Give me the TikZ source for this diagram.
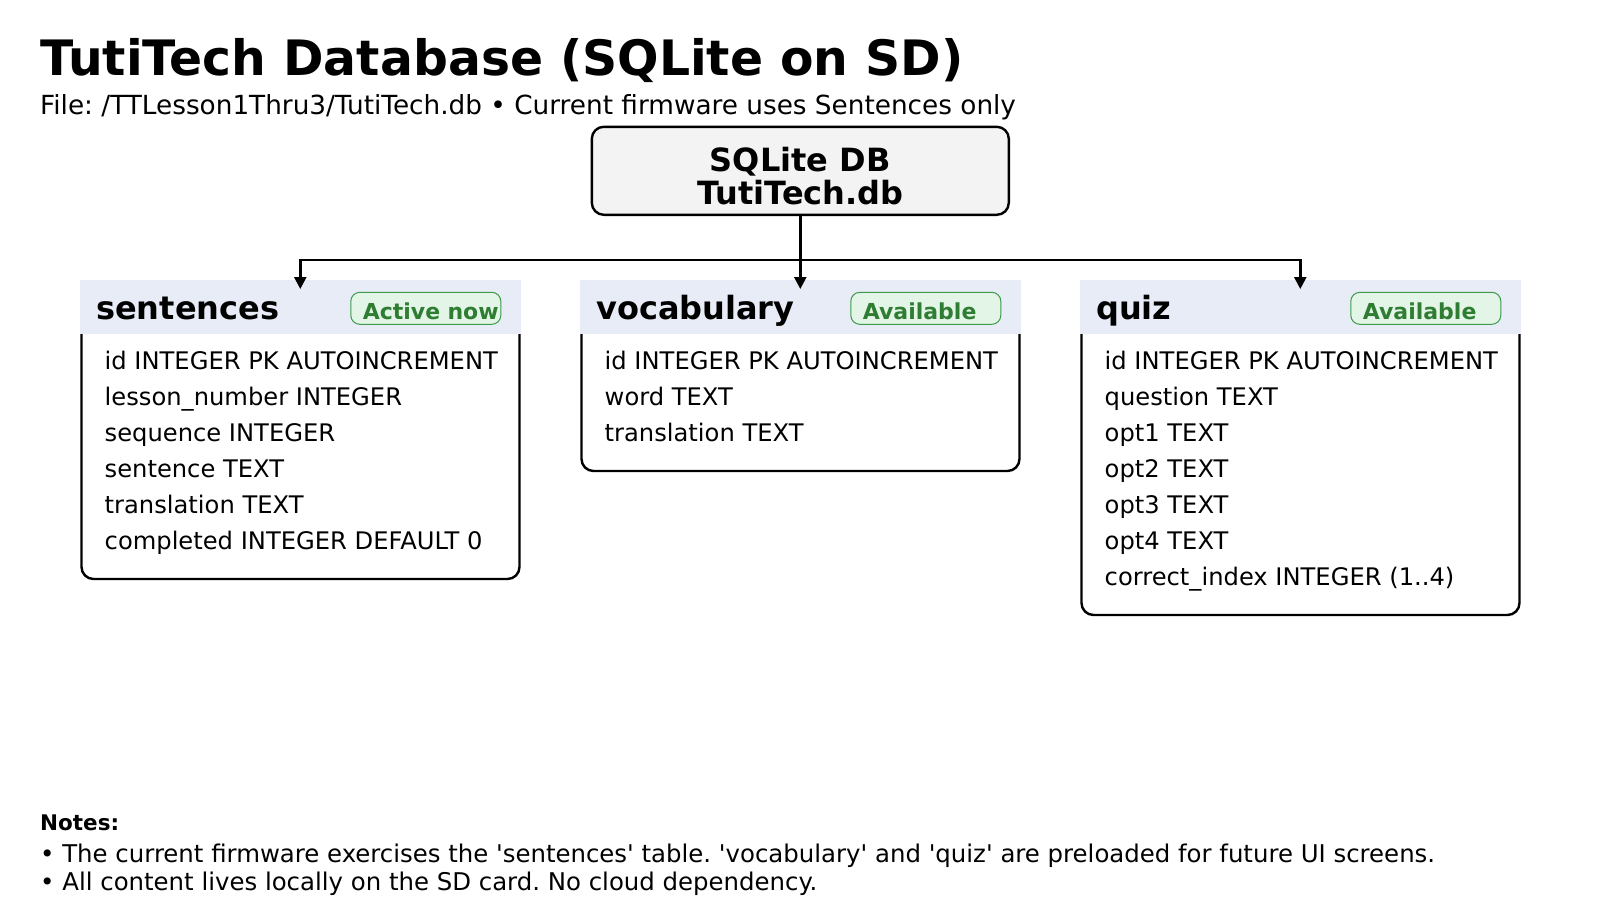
\documentclass[tikz,border=0pt]{standalone}
\usepackage{fontspec}
\setmainfont{DejaVu Sans}
\usepackage{tikz}
\usetikzlibrary{arrows.meta,positioning,calc}
\definecolor{hdrfill}{HTML}{E8ECF7}
\definecolor{dbgray}{HTML}{F3F3F3}
\definecolor{badgefill}{HTML}{E2F5E6}
\definecolor{badgeline}{HTML}{3C9A4A}
\definecolor{badgetext}{HTML}{2E7D32}
\newcommand{\sq}{\textquotesingle}
\newcommand{\fsz}[1]{\fontsize{#1}{#1}\selectfont}
\frenchspacing

\begin{document}
\begin{tikzpicture}[
  x=1pt, y=-1pt,
  >={Triangle[length=12pt,width=12pt]},
  link/.style={line width=2.4pt},
  txt/.style={anchor=base west, inner sep=0pt},
  dbbox/.style={draw, line width=2.4pt, fill=dbgray, rounded corners=12pt,
    minimum width=417pt, minimum height=88pt, inner ysep=2pt, align=center,
    font=\bfseries\fontsize{32}{33.6}\selectfont},
  tblbody/.style={draw, line width=2.4pt, rounded corners=12pt,
    minimum width=438pt, inner sep=0pt},
  tblhead/.style={fill=hdrfill, minimum width=441pt, minimum height=54pt,
    inner sep=0pt},
  tblname/.style={txt, font=\bfseries\fsz{32}},
  badge/.style={anchor=west, draw=badgeline, line width=1pt, fill=badgefill,
    rounded corners=9pt, minimum width=150pt, minimum height=32pt,
    text width=126pt, inner xsep=12pt, inner ysep=2pt, align=left,
    text height=22pt, text depth=0pt, text=badgetext,
    font=\bfseries\fsz{22}},
  fields/.style={anchor=north west, inner sep=0pt, align=left,
    font=\fontsize{24.2}{36}\selectfont}
]
\useasboundingbox (0,0) rectangle (1600,900);

% title
\node[txt, font=\bfseries\fsz{48.8}] (title) at (40,75.5)
  {TutiTech Database (SQLite on SD)};
\node[txt, font=\fsz{26.3}] (sub) at (40,114.5)
  {File: /TTLesson1Thru3/TutiTech.db • Current firmware uses Sentences only};

% sentences
\node[tblbody, minimum height=289pt] (sentB) at (300.5,434.5) {};
\node[tblhead] (sentH) at (300.3,307.2) {};
\node[tblname] (sentT) at (96,319.3) {sentences};
\node[badge] (sentA) at (350.3,308.3) {\mbox{Active now}};
\node[fields] (sentF) at (104.5,351)
  {id INTEGER PK AUTOINCREMENT\\
   lesson\_number INTEGER\\
   sequence INTEGER\\
   sentence TEXT\\
   translation TEXT\\
   completed INTEGER DEFAULT 0};

% vocabulary
\node[tblbody, minimum height=181pt] (vocB) at (800.5,380.5) {};
\node[tblhead] (vocH) at (800.3,307.2) {};
\node[tblname] (vocT) at (596,319.3) {vocabulary};
\node[badge] (vocA) at (850.3,308.3) {Available};
\node[fields] (vocF) at (604.5,351)
  {id INTEGER PK AUTOINCREMENT\\
   word TEXT\\
   translation TEXT};

% quiz
\node[tblbody, minimum height=325pt] (quizB) at (1300.5,452.5) {};
\node[tblhead] (quizH) at (1300.3,307.2) {};
\node[tblname] (quizT) at (1096,319.3) {quiz};
\node[badge] (quizA) at (1350.3,308.3) {Available};
\node[fields] (quizF) at (1104.5,351)
  {id INTEGER PK AUTOINCREMENT\\
   question TEXT\\
   opt1 TEXT\\
   opt2 TEXT\\
   opt3 TEXT\\
   opt4 TEXT\\
   correct\_index INTEGER (1..4)};

% SQLite DB
\node[dbbox] (db) at (800.3,170.8)
  {\rule{0pt}{35pt}SQLite DB\\TutiTech.db};

% Arrows
\coordinate (split) at (800,260);
\draw[link,->] (db.south) -- ([yshift=-9pt]vocH.north);
\draw[link,->] (split) -| ([yshift=-9pt]sentH.north);
\draw[link,->] (split) -| ([yshift=-9pt]quizH.north);

% Notes
\node[txt, font=\bfseries\fsz{21.5}] (notes) at (40,830.7) {Notes:};
\node[txt, font=\fsz{24.4}] (note1) at (40,862.7)
  {• The current firmware exercises the \sq sentences\sq{} table.
   \sq vocabulary\sq{} and \sq quiz\sq{} are preloaded for future UI screens.};
\node[txt, font=\fsz{24.4}] (note2) at (40,890)
  {• All content lives locally on the SD card. No cloud dependency.};
\end{tikzpicture}
\end{document}
